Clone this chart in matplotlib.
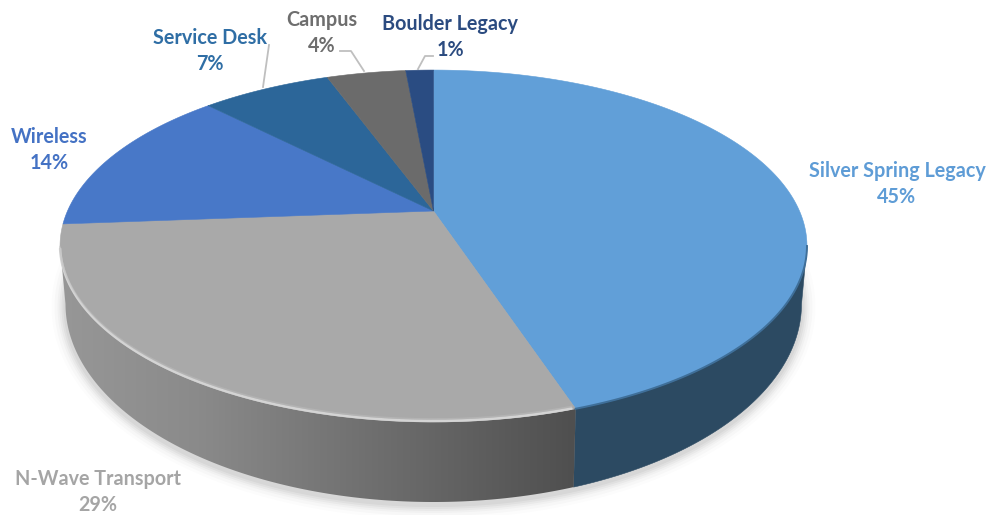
import numpy as np
import matplotlib
matplotlib.use("Agg")
import matplotlib.pyplot as plt
from matplotlib.colors import LinearSegmentedColormap
from matplotlib.patches import Polygon

categories = ["Silver Spring Legacy", "N-Wave Transport", "Wireless", "Service Desk", "Campus", "Boulder Legacy"]
shares = [44.9, 28.9, 13.8, 6.8, 4.15, 1.45]
pct_labels = ["45%", "29%", "14%", "7%", "4%", "1%"]
slice_colors = ["#619FD8", "#A9A9A9", "#4878C8", "#2C6699", "#6B6B6B", "#2A4C82"]
label_colors = ["#5E9CD6", "#A5A5A5", "#4472C4", "#2F6EA5", "#6E6E6E", "#2B4B80"]
label_pos = [(897, 184), (98, 492), (49, 150), (210, 51), (322, 33), (450, 37)]

# Top face perspective and bottom outline, in pixels
CX, CY = 433.5, 211
A, B, P = 366, 169, 0.199
BOT_A, BOT_B, BOT_CY = 368, 198, 304


def top_edge(theta):
    # theta runs clockwise from 12 o'clock
    u, v = np.sin(theta), np.cos(theta)
    w = 1 + P * v
    return np.column_stack([CX + A * u / w, CY - B * v / w])


def bottom_edge(phi):
    return np.column_stack([CX + BOT_A * np.cos(phi), BOT_CY + BOT_B * np.sin(phi)])


fig = plt.figure(figsize=(9.88, 5.15), dpi=100)
ax = fig.add_axes([0, 0, 1, 1])

# Top face slices
edges = np.cumsum([0] + shares) / sum(shares) * 2 * np.pi
for start, end, c in zip(edges[:-1], edges[1:], slice_colors):
    arc = top_edge(np.linspace(start, end, 200))
    pts = np.vstack([[CX, CY], arc])
    ax.fill(pts[:, 0], pts[:, 1], fc=c, ec=c, lw=0.4, zorder=5)

# Side wall
th_right = np.arccos(-P)
th_left = 2 * np.pi - th_right
th_split = edges[1]
x_split = top_edge(np.array([th_split]))[0, 0]
phi_split = np.arccos((x_split - 2 - CX) / BOT_A)

th_a = np.linspace(th_right, th_split, 120)
phi_a = np.linspace(phi_split, 0, 120)
blue_wall = np.vstack([top_edge(th_a), bottom_edge(phi_a)])
ax.add_patch(Polygon(blue_wall, closed=True, fc="#2C4A62", ec="#2C4A62", lw=0.4, zorder=3))

th_b = np.linspace(th_split, th_left, 200)
phi_b = np.linspace(np.pi, phi_split, 200)
gray_wall = np.vstack([top_edge(th_b), bottom_edge(phi_b)])
gray_patch = Polygon(gray_wall, closed=True, fc="none", ec="none", transform=ax.transData)
ax.add_patch(gray_patch)
wall_cmap = LinearSegmentedColormap.from_list(
    "wall", [(0, "#979797"), (0.27, "#8A8A8A"), (0.53, "#757575"), (1, "#4F4F4F")])
grad = np.linspace(0, 1, 256).reshape(1, -1)
im = ax.imshow(grad, cmap=wall_cmap, extent=(60, x_split, 515, 200), aspect="auto", zorder=3)
im.set_clip_path(gray_patch)

# Soft shadow below the wall
for grow, alpha in zip([14, 11, 8, 6, 4, 2], [0.012, 0.018, 0.025, 0.03, 0.035, 0.04]):
    phi = np.linspace(0, 2 * np.pi, 300)
    pts = np.column_stack([CX + (BOT_A + grow) * np.cos(phi), BOT_CY + 3 + (BOT_B + grow) * np.sin(phi)])
    ax.add_patch(Polygon(pts, closed=True, fc="black", ec="none", alpha=alpha, zorder=1))

# Rim highlight on the gray slice, dark seam on the blue one
rim = top_edge(np.linspace(th_split + 0.01, th_left - 0.02, 200))
ax.plot(rim[:, 0], rim[:, 1] - 1, color="#D4D4D4", lw=1.8, solid_capstyle="round", zorder=6)
ax.plot(rim[:, 0], rim[:, 1] - 3, color="#BDBDBD", lw=1.2, alpha=0.5, zorder=6)
seam = top_edge(np.linspace(th_right, th_split, 120))
ax.plot(seam[:, 0], seam[:, 1], color="#3F6F99", lw=1.4, zorder=6)

# Leader lines
ax.plot([269, 263], [45, 87], color="#BFBFBF", lw=1.3, zorder=4)
ax.plot([340, 351, 364], [51, 51, 71], color="#BFBFBF", lw=1.3, zorder=4)
ax.plot([433, 425, 418], [56, 56, 69], color="#BFBFBF", lw=1.3, zorder=4)

for name, pct, color, (x, y) in zip(categories, pct_labels, label_colors, label_pos):
    ax.text(x, y, f"{name}\n{pct}", color=color, ha="center", va="center", fontsize=14.2,
            fontfamily="Lato", fontweight="bold", linespacing=1.42, zorder=7)

ax.set_xlim(0, 988)
ax.set_ylim(515, 0)
ax.axis("off")

fig.savefig("out.png", dpi=100)
